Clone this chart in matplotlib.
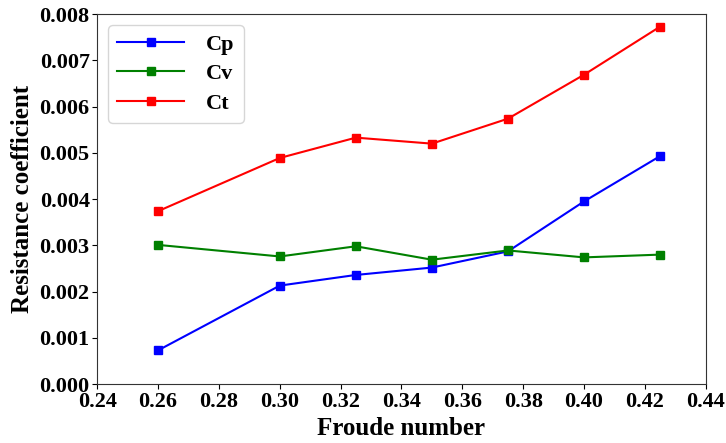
import matplotlib
matplotlib.use("Agg")
import matplotlib.pyplot as plt

plt.rcParams['font.family'] = ['Liberation Serif', 'DejaVu Serif']
plt.rcParams['font.weight'] = 'bold'

froude = [0.26, 0.30, 0.325, 0.35, 0.375, 0.40, 0.425]
cp = [0.00073, 0.00213, 0.00236, 0.00252, 0.00287, 0.00395, 0.00493]
cv = [0.00301, 0.00276, 0.00298, 0.00269, 0.00289, 0.00274, 0.00280]
ct = [0.00374, 0.00489, 0.00533, 0.00520, 0.00574, 0.00669, 0.00773]

fig = plt.figure(figsize=(7.26, 4.43), dpi=100)
ax = fig.add_axes([0.134, 0.133, 0.838, 0.835])

ax.plot(froude, cp, color='blue', marker='s', markersize=6, linewidth=1.5, label='Cp')
ax.plot(froude, cv, color='green', marker='s', markersize=6, linewidth=1.5, label='Cv')
ax.plot(froude, ct, color='red', marker='s', markersize=6, linewidth=1.5, label='Ct')

ax.set_xlim(0.24, 0.44)
ax.set_ylim(0, 0.008)
ax.set_xticks([0.24, 0.26, 0.28, 0.30, 0.32, 0.34, 0.36, 0.38, 0.40, 0.42, 0.44])
ax.set_xticklabels(['%.2f' % v for v in ax.get_xticks()])
ax.set_yticks([i * 0.001 for i in range(9)])
ax.set_yticklabels(['%.3f' % v for v in ax.get_yticks()])
ax.tick_params(labelsize=16, pad=2)
for s in ax.spines.values():
    s.set_color('#333333')

ax.set_xlabel('Froude number', fontsize=18, fontweight='bold', labelpad=4)
ax.set_ylabel('Resistance coefficient', fontsize=18, fontweight='bold', labelpad=4)

ax.legend(loc='upper left', fontsize=16, borderpad=0.4, labelspacing=0.4,
          handlelength=3.0, handletextpad=1.0, bbox_to_anchor=(0, 1))

fig.savefig('out.png', dpi=100)
